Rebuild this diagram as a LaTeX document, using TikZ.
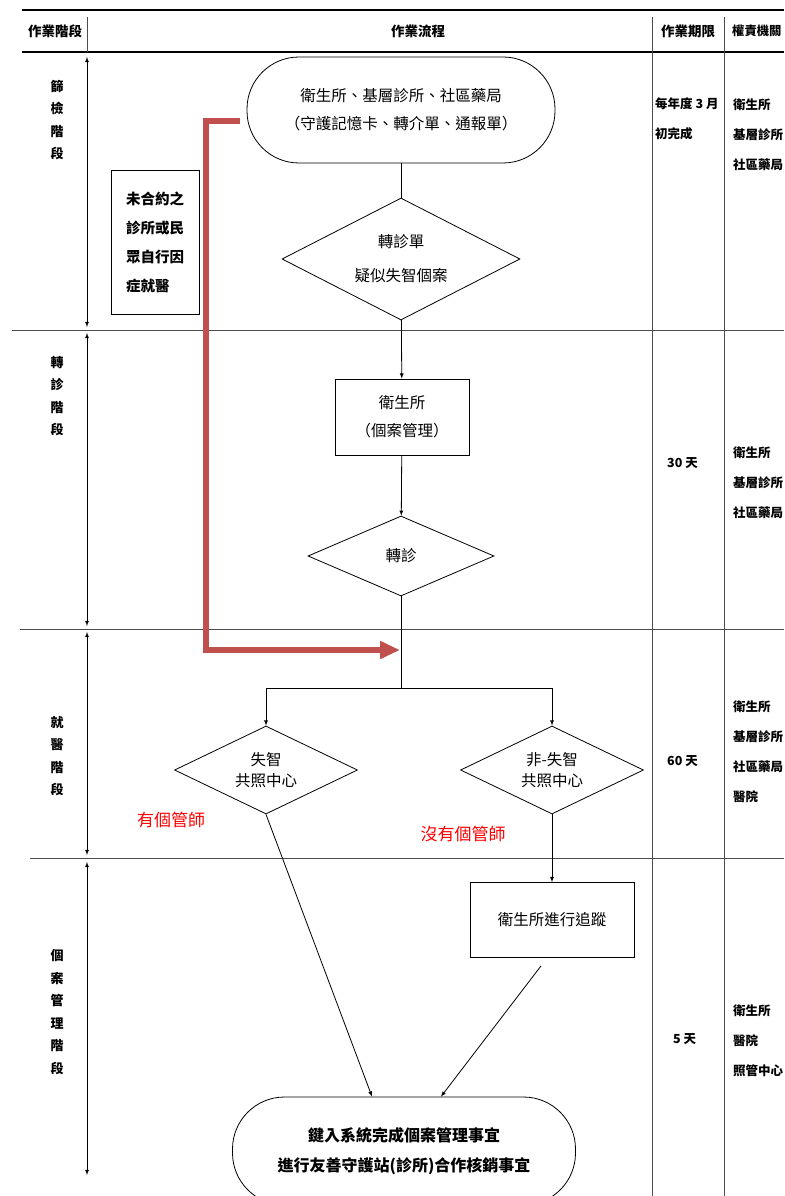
\documentclass[tikz,border=0pt]{standalone}
\usepackage{fontspec}
\newfontfamily\cjk{Noto Sans CJK TC}
\usetikzlibrary{shapes.geometric, arrows, arrows.meta, positioning}

\begin{document}
\begin{tikzpicture}[x=1pt, y=-1pt, >=latex, font=\cjk]
\tikzset{flow/.style={draw, thick, align=center, font=\cjk\fontsize{15.5}{28}\selectfont},
  dia/.style={flow, diamond, aspect=2, inner sep=0pt},
  term/.style={flow, rectangle, rounded corners=52pt},
  side/.style={anchor=west, inner sep=0pt, align=left, font=\cjk\bfseries\fontsize{12.5}{30}\selectfont},
  phase/.style={inner sep=0pt, align=center, font=\cjk\bfseries\fontsize{13}{22.5}\selectfont},
  head/.style={font=\cjk\bfseries\fontsize{13.5}{16}\selectfont},
  heavy/.style={line width=2.5pt},
  rule/.style={draw=black!70, line width=1pt},
  note/.style={text=red, font=\cjk\fontsize{17}{20}\selectfont}}
\useasboundingbox (0,0) rectangle (784,1196);

% table
\draw[heavy] (22,10) -- (784,10);
\draw[heavy] (22,52) -- (784,52);
\draw[rule] (87,17) -- (87,52);
\draw[rule] (652,17) -- (652,1196);
\draw[rule] (724,17) -- (724,1196);
\draw[rule] (12,330) -- (784,330);
\draw[rule] (20,629) -- (784,629);
\draw[rule] (30,858) -- (784,858);
\node[head] (H1) at (55,31) {作業階段};
\node[head] (H2) at (418,31) {作業流程};
\node[head] (H3) at (688,31) {作業期限};
\node[head, anchor=west, inner sep=0pt, font=\cjk\bfseries\fontsize{12.3}{16}\selectfont] (H4) at (732,31) {權責機關};

% stages
\foreach \a/\b [count=\i] in {57/327, 333/626, 632/855, 862/1175} {
  \coordinate (P\i) at (87,\a);
  \coordinate (Q\i) at (87,\b);
  \draw[<->, thick] (P\i) -- (Q\i);
}
\node[phase] (S1) at (57,120) {篩\\檢\\階\\段};
\node[phase] (S2) at (57,396) {轉\\診\\階\\段};
\node[phase] (S3) at (57,756) {就\\醫\\階\\段};
\node[phase] (S4) at (57,1012) {個\\案\\管\\理\\階\\段};

% flow
\node[term, minimum width=308pt, minimum height=106pt] (T1) at (401,110)
  {衛生所、基層診所、社區藥局\\（守護記憶卡、轉介單、通報單）};
\node[dia, minimum width=238pt, minimum height=122pt, font=\cjk\fontsize{15.5}{34}\selectfont] (D1) at (401,259)
  {轉診單\\疑似失智個案};
\node[flow, minimum width=134pt, minimum height=76pt] (B1) at (402,417) {衛生所\\（個案管理）};
\node[dia, minimum width=186pt, minimum height=80pt] (D2) at (401,556) {轉診};
\coordinate (J) at (401,688);
\node[dia, minimum width=183pt, minimum height=88pt, font=\cjk\fontsize{15.5}{21}\selectfont] (D3) at (266,770)
  {失智\\共照中心};
\node[dia, minimum width=183pt, minimum height=88pt, font=\cjk\fontsize{15.5}{21}\selectfont] (D4) at (552,770)
  {非-失智\\共照中心};
\node[flow, minimum width=164pt, minimum height=75pt] (B2) at (552,920) {衛生所進行追蹤};
\node[term, minimum width=343pt, minimum height=108pt, font=\cjk\bfseries\fontsize{16}{30}\selectfont] (T2) at (404,1151)
  {鍵入系統完成個案管理事宜\\進行友善守護站(診所)合作核銷事宜};
\node[draw, thick, minimum width=88pt, minimum height=144pt, align=left,
  font=\cjk\bfseries\fontsize{14.5}{29}\selectfont] (B0) at (155,242) {未合約之\\診所或民\\眾自行因\\症就醫};

\node[note] (L1) at (171,820) {有個管師};
\node[note] (L2) at (463,834) {沒有個管師};

\draw[thick] (T1) -- (D1);
\draw[thick, ->] (D1) -- (B1);
\draw[thick, ->] (B1) -- (D2);
\draw[thick] (D2) -- (J);
\draw[thick, ->] (J) -| (D3.north);
\draw[thick, ->] (J) -| (D4.north);
\draw[thick, ->] (D4.south) -- (B2.north);
\draw[thick, ->] (D3.south) -- ([xshift=-32pt]T2.north);
\draw[thick, ->] ([xshift=-11pt, yshift=-8pt]B2.south) -- ([xshift=37pt]T2.north);

% red path
\coordinate (R0) at (240,121);
\coordinate (R1) at (400,650);
\draw[draw={rgb,255:red,192;green,80;blue,77}, line width=6pt,
  -{Triangle[length=20pt, width=17pt]}] (R0) -- ++(-34,0) |- (R1);

% deadlines and offices
\node[side] (E1) at (655,119) {每年度 3 月\\初完成};
\node[side] (E2) at (667,463) {30 天};
\node[side] (E3) at (667,761) {60 天};
\node[side] (E4) at (673,1039) {5 天};
\node[side] (A1) at (733,135) {衛生所\\基層診所\\社區藥局};
\node[side] (A2) at (733,483) {衛生所\\基層診所\\社區藥局};
\node[side] (A3) at (733,752) {衛生所\\基層診所\\社區藥局\\醫院};
\node[side] (A4) at (733,1041) {衛生所\\醫院\\照管中心};
\end{tikzpicture}
\end{document}
